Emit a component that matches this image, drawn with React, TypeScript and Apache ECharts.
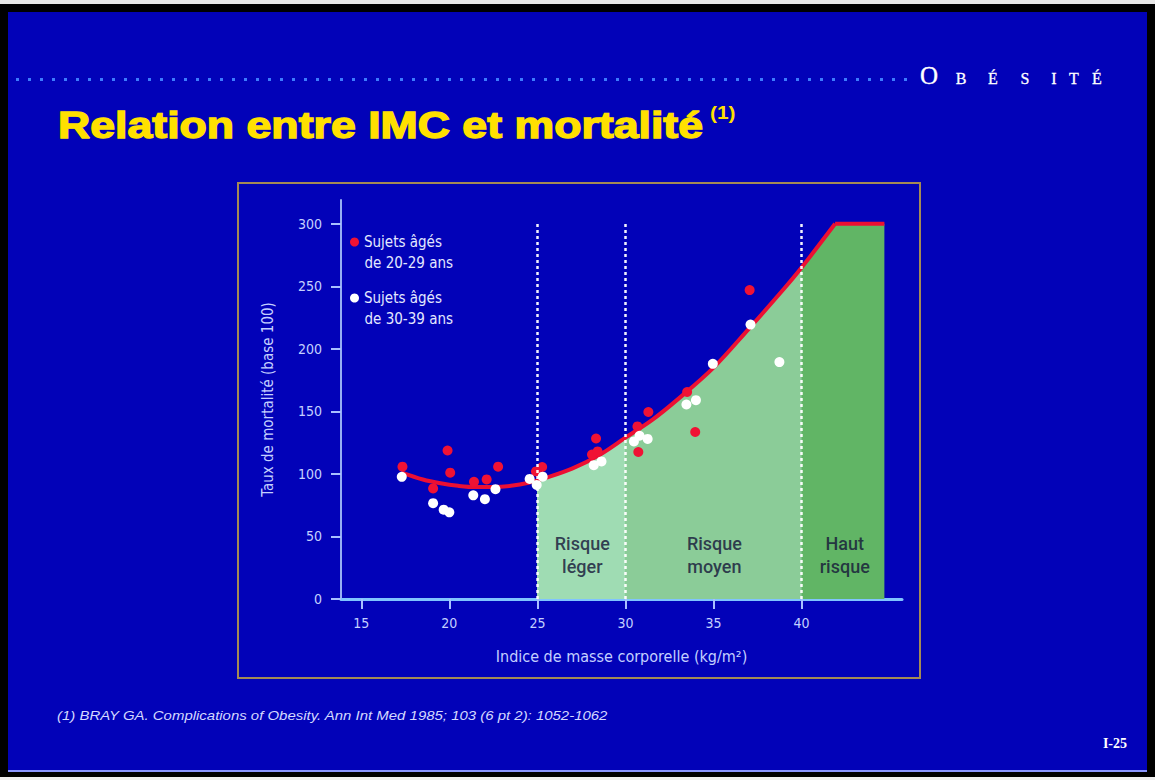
import React, { useEffect, useRef } from "react";
import * as echarts from "echarts";

// ---- data ----
const redX = [17.34, 19.08, 19.9, 20.05, 21.4, 22.12, 22.77, 24.92, 25.27, 28.1, 28.33, 28.42, 30.68, 30.73, 31.3, 33.5, 33.96, 37.05];
const redY = [105.8, 88.4, 118.7, 101, 93.7, 95.6, 105.8, 102, 105.5, 115.5, 128.3, 118, 138, 117.5, 149.5, 165.5, 133.5, 247];
const whiteX = [17.3, 19.08, 19.68, 20.0, 21.36, 22.02, 22.62, 24.56, 24.96, 25.3, 28.2, 28.64, 30.48, 30.8, 31.26, 33.46, 34.0, 34.96, 37.1, 38.74];
const whiteY = [97.7, 76.6, 71.4, 69.3, 82.9, 79.8, 87.8, 96, 91.2, 97.8, 107, 110, 126, 130.5, 128, 155.5, 159, 188, 219.4, 189.4];
const curveX = [17.3, 18.5, 19.5, 20.5, 21.5, 22.5, 23.5, 24.5, 25.5, 27, 28.5, 30, 31.5, 33, 35, 37, 39, 40, 41.9];
const curveY = [101, 95.5, 92.5, 90.5, 89.5, 89.5, 90.5, 93, 97, 104.5, 115, 129, 143, 160, 185, 216, 248, 265, 300];
const plateauX = [41.9, 44.7];
const plateauY = [300, 300];
const zoneBounds = [25, 30, 40];
const zoneTop = 302;
const zoneNames = ["Risque\nléger", "Risque\nmoyen", "Haut\nrisque"];
const zoneLabelX = [27.55, 35.05, 42.45];
const zoneLabelY = [35.5, 35.5, 35.5];
const xTicks = [15, 20, 25, 30, 35, 40];
const yTicks = [0, 50, 100, 150, 200, 250, 300];
const legendLine1 = ["Sujets âgés", "Sujets âgés"];
const legendLine2 = ["de 20-29 ans", "de 30-39 ans"];
const seriesNames = ["Sujets âgés de 20-29 ans", "Sujets âgés de 30-39 ans"];

const BLUE = "#0202b8";
const NARROW = "'Liberation Sans Narrow', 'DejaVu Sans Condensed', 'Liberation Sans', sans-serif";

function measure(text: string, font: string): number {
  const c = document.createElement("canvas").getContext("2d");
  if (!c) return text.length * 10;
  c.font = font;
  return c.measureText(text).width;
}

export default function App() {
  const ref = useRef<HTMLDivElement>(null);
  useEffect(() => {
    if (!ref.current) return;
    const chart = echarts.init(ref.current, null, { renderer: "svg" });

    const title = "Relation entre IMC et mortalité";
    const titleFont = "bold 37px 'Liberation Sans'";
    const titleW = measure(title, titleFont);
    const titleScale = 645 / titleW;
    const foot = "(1) BRAY GA. Complications of Obesity. Ann Int Med 1985; 103 (6 pt 2): 1052-1062";
    const footFont = "italic 12px 'Liberation Sans'";
    const footScale = 552 / measure(foot, footFont);

    const xMin = Math.min(...curveX);
    const xMax = Math.max(...curveX);
    const off = (v: number) => (v - xMin) / (xMax - xMin);
    const LIGHT = "#9fdcb3";
    const MED = "#8bcc98";
    const DARK = "#61b565";
    const T = "rgba(0,0,0,0)";
    const grad = new echarts.graphic.LinearGradient(0, 0, 1, 0, [
      { offset: 0, color: T },
      { offset: off(zoneBounds[0]) - 0.0001, color: T },
      { offset: off(zoneBounds[0]), color: LIGHT },
      { offset: off(zoneBounds[1]) - 0.0001, color: LIGHT },
      { offset: off(zoneBounds[1]), color: MED },
      { offset: off(zoneBounds[2]) - 0.0001, color: MED },
      { offset: off(zoneBounds[2]), color: DARK },
      { offset: 1, color: DARK },
    ]);

    // dark zone: last two curve points + plateau (straight), overlapping the curve area
    const n = curveX.length;
    const darkZone = [
      [curveX[n - 2], curveY[n - 2]],
      [curveX[n - 1], curveY[n - 1]],
      [plateauX[1], plateauY[1]],
    ];

    const letters = [
      { t: "O", x: 929, s: 25 },
      { t: "B", x: 961, s: 16 },
      { t: "É", x: 993, s: 16 },
      { t: "S", x: 1025, s: 16 },
      { t: "I", x: 1054, s: 16 },
      { t: "T", x: 1074, s: 16 },
      { t: "É", x: 1097, s: 16 },
    ];

    const axisText = { color: "#c4d0ff", fontSize: 14, fontFamily: NARROW };
    const legendTop = [231.5, 287.5];

    chart.setOption({
      animation: false,
      backgroundColor: "#000",
      graphic: [
        { type: "rect", z: -10, silent: true, shape: { x: 0, y: 0, width: 1155, height: 4 }, style: { fill: "#e8e8e8" } },
        { type: "rect", z: -10, silent: true, shape: { x: 0, y: 777, width: 1155, height: 3 }, style: { fill: "#f0f0f0" } },
        { type: "rect", z: -9, silent: true, shape: { x: 8, y: 12, width: 1139, height: 758 }, style: { fill: BLUE } },
        { type: "rect", z: -9, silent: true, shape: { x: 8, y: 770, width: 1139, height: 2 }, style: { fill: "#8a96ff" } },
        {
          type: "line", z: -8, silent: true,
          shape: { x1: 16, y1: 79.5, x2: 912, y2: 79.5 },
          style: { stroke: "#3d7cff", lineWidth: 3, lineDash: [3, 9] },
        },
        ...letters.map((l) => ({
          type: "text", z: -8, silent: true,
          x: l.x, y: 83 - l.s * 0.3,
          style: { text: l.t, font: `${l.s}px 'Liberation Serif'`, fill: "#ffffff", stroke: "#ffffff", lineWidth: 0.3, align: "center", verticalAlign: "middle" },
        })),
        {
          type: "text", z: -8, silent: true, x: 58, y: 125, scaleX: titleScale,
          style: { text: title, font: titleFont, fill: "#ffe000", stroke: "#ffe000", lineWidth: 1.4, verticalAlign: "middle" },
        },
        {
          type: "text", z: -8, silent: true, x: 58 + 647 + 5, y: 112, scaleX: 1.1,
          style: { text: "(1)", font: "bold 19px 'Liberation Sans'", fill: "#ffe000", verticalAlign: "middle" },
        },
        {
          type: "rect", z: -8, silent: true,
          shape: { x: 238, y: 183, width: 682, height: 495 },
          style: { fill: "none", stroke: "#a48a55", lineWidth: 2 },
        },
        ...legendLine2.map((t, i) => ({
          type: "text", z: 10, silent: true, x: 364.5, y: legendTop[i] + 10.5 + 21,
          style: { text: t, font: `15px ${NARROW}`, fill: "#e4e8ff", verticalAlign: "middle" },
        })),
        {
          type: "text", z: -8, silent: true, x: 57, y: 716, scaleX: footScale,
          style: { text: foot, font: footFont, fill: "#d4d8ff", verticalAlign: "middle" },
        },
        {
          type: "text", z: -8, silent: true, x: 1127, y: 743,
          style: { text: "I-25", font: "bold 14px 'Liberation Serif'", fill: "#ffffff", align: "right", verticalAlign: "middle" },
        },
      ],
      grid: { left: 341, top: 200, right: 253, bottom: 181, containLabel: false },
      legend: [0, 1].map((i) => ({
        data: [seriesNames[i]],
        left: 350,
        top: legendTop[i],
        orient: "vertical",
        icon: "circle",
        itemWidth: 9,
        itemHeight: 9,
        itemGap: 0,
        padding: 0,
        selectedMode: false,
        formatter: () => legendLine1[i],
        itemStyle: { opacity: 1 },
        textStyle: { color: "#e4e8ff", fontSize: 15, lineHeight: 21, fontFamily: NARROW },
      })),
      xAxis: {
        type: "value",
        min: 13.85,
        max: 45.7,
        name: "Indice de masse corporelle (kg/m²)",
        nameLocation: "middle",
        nameGap: 49,
        nameTextStyle: { ...axisText, fontSize: 16 },
        axisLine: { show: true, lineStyle: { color: "#80c4ff", width: 3 } },
        axisTick: { show: true, length: 10, customValues: xTicks, lineStyle: { color: "#a8c0ff", width: 2 } },
        axisLabel: { ...axisText, customValues: xTicks, margin: 17 },
        splitLine: { show: false },
      },
      yAxis: {
        type: "value",
        min: 0,
        max: 319,
        name: "Taux de mortalité (base 100)",
        nameLocation: "middle",
        nameGap: 66,
        nameRotate: 90,
        nameTextStyle: { ...axisText, fontSize: 15 },
        axisLine: { show: true, lineStyle: { color: "#96aef4", width: 2 } },
        axisTick: { show: true, length: 10, customValues: yTicks, lineStyle: { color: "#a8c0ff", width: 2 } },
        axisLabel: { ...axisText, customValues: yTicks, margin: 19 },
        splitLine: { show: false },
      },
      series: [
        {
          type: "line",
          name: "zones",
          data: curveX.map((x, i) => [x, curveY[i]]),
          smooth: 0.35,
          symbol: "none",
          lineStyle: { width: 0 },
          areaStyle: { color: grad, opacity: 1 },
          z: 1,
          silent: true,
        },
        {
          type: "line",
          name: "plateau-zone",
          data: darkZone,
          symbol: "none",
          lineStyle: { width: 0 },
          areaStyle: { color: DARK, opacity: 1 },
          z: 1,
          silent: true,
        },
        {
          type: "line",
          name: "seuils",
          data: [],
          z: 2,
          markLine: {
            silent: true,
            symbol: ["none", "none"],
            label: { show: false },
            lineStyle: { type: [3, 3], color: "#ffffff", width: 2.5, opacity: 0.95 },
            data: zoneBounds.map((x) => [{ coord: [x, 0] }, { coord: [x, zoneTop] }]),
          },
        },
        {
          type: "line",
          name: "courbe",
          data: curveX.map((x, i) => [x, curveY[i]]),
          smooth: 0.35,
          symbol: "none",
          lineStyle: { color: "#ec0f33", width: 4 },
          z: 3,
          silent: true,
        },
        {
          type: "line",
          name: "courbe-plateau",
          data: plateauX.map((x, i) => [x, plateauY[i]]),
          symbol: "none",
          lineStyle: { color: "#ec0f33", width: 4 },
          z: 3,
          silent: true,
        },
        {
          type: "scatter",
          name: seriesNames[0],
          data: redX.map((x, i) => [x, redY[i]]),
          symbolSize: 10,
          itemStyle: { color: "#f01234", opacity: 1 },
          z: 4,
        },
        {
          type: "scatter",
          name: seriesNames[1],
          data: whiteX.map((x, i) => [x, whiteY[i]]),
          symbolSize: 10,
          itemStyle: { color: "#ffffff", opacity: 1 },
          z: 5,
        },
        {
          type: "scatter",
          name: "labels",
          data: zoneNames.map((nm, i) => ({ name: nm, value: [zoneLabelX[i], zoneLabelY[i]] })),
          symbolSize: 1,
          itemStyle: { color: "rgba(0,0,0,0)" },
          silent: true,
          z: 6,
          label: {
            show: true,
            position: "inside",
            formatter: "{b}",
            color: "#141438",
            fontSize: 18,
            fontWeight: 500,
            lineHeight: 23,
            fontFamily: "Roboto, " + NARROW,
            align: "center",
          },
        },
      ],
    });
    return () => chart.dispose();
  }, []);
  return <div ref={ref} style={{ position: "fixed", left: 0, top: 0, width: 1155, height: 780 }} />;
}
